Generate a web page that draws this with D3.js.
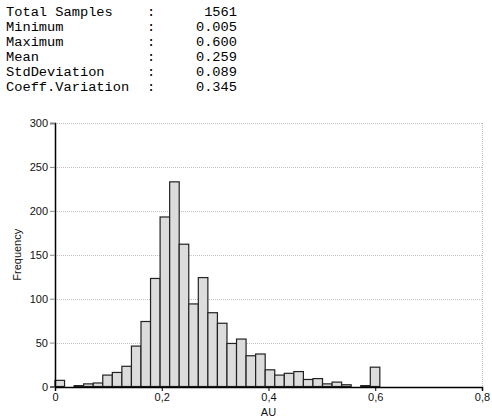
<!DOCTYPE html>
<meta charset="utf-8">
<style>
body { margin: 0; background: #fff; }
.stats text { font-family: "Liberation Mono", "DejaVu Sans Mono", monospace; font-size: 13.7px; fill: #000; }
.axis text { font-family: "Liberation Sans", Arial, sans-serif; font-size: 11px; fill: #111; }
.label { font-family: "Liberation Sans", Arial, sans-serif; font-size: 11px; fill: #111; }
.grid line { stroke: #c8bcc8; stroke-dasharray: 1,1; }
.bar { fill: #dcdcdc; stroke: #222; stroke-width: 1.2px; }
</style>
<svg width="492" height="420"></svg>
<script src="https://cdnjs.cloudflare.com/ajax/libs/d3/7.8.5/d3.min.js"></script>
<script>

// summary block
var statNames = ["Total Samples", "Minimum", "Maximum", "Mean", "StdDeviation", "Coeff.Variation"];
var statValues = ["1561", "0.005", "0.600", "0.259", "0.089", "0.345"];

// histogram: bins start at 0, each binWidth wide
var binStart = 0;
var binWidth = 0.0179;
var counts = [7, 0, 1, 3, 4, 13, 16, 23, 46, 74, 123, 193, 233, 162, 94, 124, 84, 72,
              49, 54, 35, 37, 19, 13, 15, 17, 8, 9, 3, 5, 2, 0, 1, 22];

var xTicks = [0, 0.2, 0.4, 0.6, 0.8];
var yTicks = [0, 50, 100, 150, 200, 250, 300];

var svg = d3.select("svg");

var stats = svg.append("g").attr("class", "stats");
stats.selectAll(".name")
  .data(statNames)
  .enter().append("text")
  .attr("x", 6)
  .attr("y", function(d, i) { return 16 + i * 15; })
  .text(function(d) { return d; });
stats.selectAll(".colon")
  .data(statNames)
  .enter().append("text")
  .attr("x", 147)
  .attr("y", function(d, i) { return 16 + i * 15; })
  .text(":");
stats.selectAll(".val")
  .data(statValues)
  .enter().append("text")
  .attr("x", 237)
  .attr("text-anchor", "end")
  .attr("y", function(d, i) { return 16 + i * 15; })
  .text(function(d) { return d; });

var pLeft = 55, pRight = 482, pTop = 123, pBottom = 386.5;

var x = d3.scaleLinear().domain([0, 0.8]).range([pLeft, pRight]);
var y = d3.scaleLinear().domain([0, 300]).range([pBottom, pTop]);

// grid
var grid = svg.append("g").attr("class", "grid");
grid.selectAll("line.h")
  .data(yTicks.slice(1))
  .enter().append("line")
  .attr("x1", pLeft).attr("x2", pRight)
  .attr("y1", function(d) { return Math.round(y(d)) + 0.5; })
  .attr("y2", function(d) { return Math.round(y(d)) + 0.5; });
grid.append("line")
  .attr("x1", pRight + 0.5).attr("x2", pRight + 0.5)
  .attr("y1", pTop).attr("y2", pBottom);

// bars
svg.selectAll(".bar")
  .data(counts)
  .enter().append("rect")
  .attr("class", "bar")
  .attr("x", function(d, i) { return x(binStart + i * binWidth); })
  .attr("width", x(binWidth) - x(0))
  .attr("y", function(d) { return y(d); })
  .attr("height", function(d) { return y(0) - y(d); })
  .style("display", function(d) { return d > 0 ? null : "none"; });

// axes
var fmt = function(d) { return d === 0 ? "0" : d3.format(".1f")(d).replace(".", ","); };

var xAxis = svg.append("g")
  .attr("class", "axis")
  .attr("transform", "translate(0," + Math.round(pBottom) + ")")
  .call(d3.axisBottom(x).tickValues(xTicks).tickFormat(fmt).tickSize(4).tickPadding(2));
xAxis.select(".domain").attr("stroke", "#000").attr("stroke-width", 1.5);

var yAxis = svg.append("g")
  .attr("class", "axis")
  .attr("transform", "translate(" + pLeft + ",0)")
  .call(d3.axisLeft(y).tickValues(yTicks).tickSize(5).tickPadding(2));
yAxis.select(".domain").attr("stroke", "#000").attr("stroke-width", 1.5);
yAxis.selectAll(".tick line").attr("stroke", "#888");

svg.append("text")
  .attr("class", "label")
  .attr("text-anchor", "middle")
  .attr("x", (pLeft + pRight) / 2)
  .attr("y", 416)
  .text("AU");

svg.append("text")
  .attr("class", "label")
  .attr("text-anchor", "middle")
  .attr("transform", "translate(21," + (pTop + pBottom) / 2 + ") rotate(-90)")
  .text("Frequency");

</script>
